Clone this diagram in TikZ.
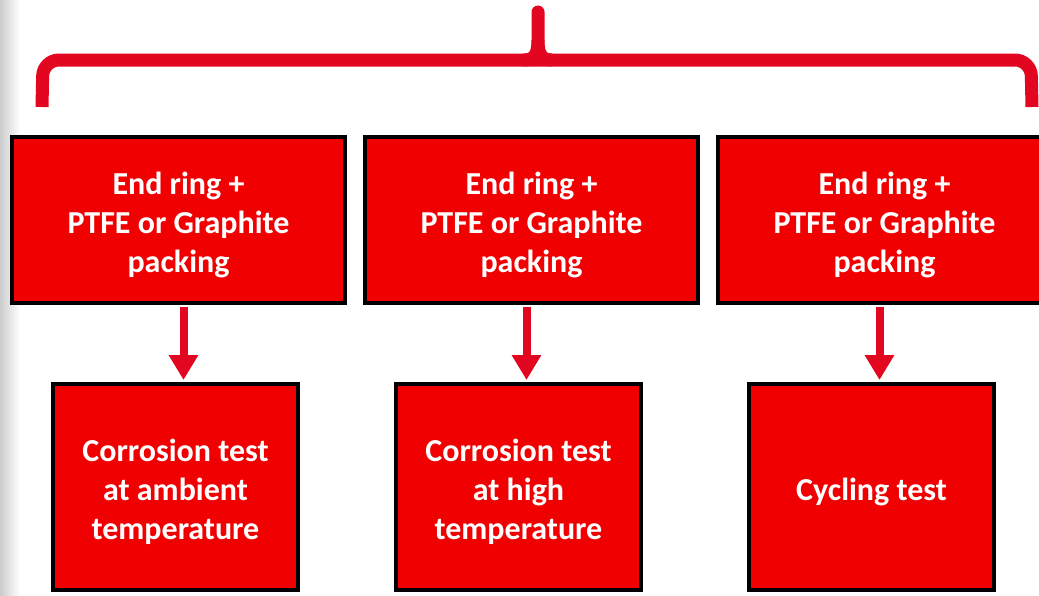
\documentclass[tikz,border=0pt]{standalone}
\usepackage{fontspec}
\setmainfont{Carlito}
\usetikzlibrary{arrows.meta}
\definecolor{boxred}{RGB}{240,0,0}
\definecolor{linered}{RGB}{227,6,33}
% Zeilenstruts oben/unten
\newcommand\zo{\rule{0pt}{35.5pt}}
\newcommand\zu{\rule[-8.6pt]{0pt}{8.6pt}}
\begin{document}
\begin{tikzpicture}[x=1pt,y=-1pt,
		kasten/.style={draw=black,line width=4pt,fill=boxred,text=white,
			font=\fontsize{32}{39}\selectfont\bfseries,align=center,inner sep=0pt},
		oben/.style={kasten,minimum width=333pt,minimum height=166pt},
		unten/.style={kasten,minimum width=245pt,minimum height=206pt},
		klammer/.style={linered,line width=13pt},
		pfeil/.style={-{Triangle[width=28pt,length=25pt]},linered,line width=8pt,
			shorten <=2pt,shorten >=2pt}]
		\useasboundingbox (0,0) rectangle (1039,595);
		\clip (0,0) rectangle (1039,595);
		% Schatten links
		\shade[left color=black!20,right color=white] (0,0) rectangle (20,595);
		% Klammer
		\draw[klammer,rounded corners=16pt] (42,107) -- (43,60) -- (1031,60) -- (1032,107);
		\draw[klammer,line cap=round] (524,60) .. controls (534,60) and (538,55) .. (538,40) -- (538,12);
		\draw[klammer] (552,60) .. controls (542,60) and (538,55) .. (538,40);
		% Kaesten oben
		\node[oben] (t1) at (178.5,220) {\zo End ring +\\PTFE or Graphite\\packing\zu};
		\node[oben] (t2) at (531.5,220) {\zo End ring +\\PTFE or Graphite\\packing\zu};
		\node[oben] (t3) at (884.5,220) {\zo End ring +\\PTFE or Graphite\\packing\zu};
		% Kaesten unten
		\node[unten] (b1) at (175.5,487) {\zo Corrosion test\\at ambient\\temperature\zu};
		\node[unten] (b2) at (518.5,487) {\zo Corrosion test\\at high\\temperature\zu};
		\node[unten] (b3) at (871.5,487) {\zo Cycling test\zu};
		% Pfeile
		\draw[pfeil] ([xshift=8pt]b1.north |- t1.south) -- ([xshift=8pt]b1.north);
		\draw[pfeil] ([xshift=8pt]b2.north |- t2.south) -- ([xshift=8pt]b2.north);
		\draw[pfeil] ([xshift=8pt]b3.north |- t3.south) -- ([xshift=8pt]b3.north);
	\end{tikzpicture}
\end{document}
